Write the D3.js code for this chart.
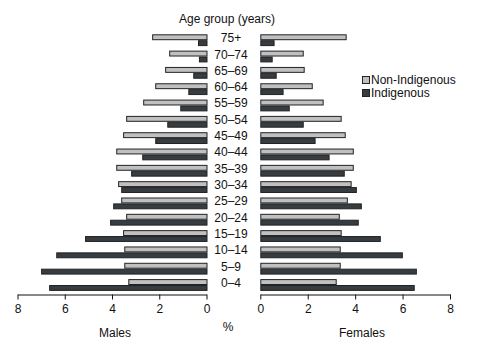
<!DOCTYPE html>
<html>
<head>
<meta charset="utf-8">
<script src="https://cdn.jsdelivr.net/npm/d3@7"></script>
<style>
  body { margin: 0; background: #fff; }
  text { font-family: "Liberation Sans", Arial, sans-serif; fill: #111; }
</style>
</head>
<body>
<div id="chart"></div>
<script>
// age groups, top to bottom
const ageGroups = ["75+", "70–74", "65–69", "60–64", "55–59", "50–54", "45–49", "40–44",
  "35–39", "30–34", "25–29", "20–24", "15–19", "10–14", "5–9", "0–4"];
const seriesNames = ["Non-Indigenous", "Indigenous"];

// % of population
const malesNonIndigenous = [2.30, 1.58, 1.75, 2.17, 2.68, 3.40, 3.53, 3.82, 3.82, 3.74, 3.61, 3.40, 3.53, 3.48, 3.48, 3.31];
const malesIndigenous = [0.36, 0.32, 0.56, 0.77, 1.11, 1.66, 2.17, 2.72, 3.19, 3.61, 3.95, 4.08, 5.14, 6.36, 7.00, 6.66];
const femalesNonIndigenous = [3.60, 1.79, 1.83, 2.17, 2.63, 3.39, 3.56, 3.90, 3.90, 3.81, 3.65, 3.31, 3.39, 3.35, 3.35, 3.18];
const femalesIndigenous = [0.56, 0.48, 0.65, 0.94, 1.20, 1.79, 2.29, 2.88, 3.52, 4.03, 4.24, 4.11, 5.04, 5.97, 6.56, 6.47];
const xTicks = [0, 2, 4, 6, 8];

const width = 491, height = 350;
const colors = { "Non-Indigenous": "#c0c0c0", "Indigenous": "#373c40" };

const svg = d3.select("#chart").append("svg")
  .attr("width", width)
  .attr("height", height);

// scales
const xMale = d3.scaleLinear().domain([0, 8]).range([206.5, 17.5]);
const xFemale = d3.scaleLinear().domain([0, 8]).range([260.3, 450]);
const yGroup = d3.scalePoint().domain(ageGroups).range([40.5, 285.3]);
const ySeries = d3.scaleBand().domain(seriesNames).range([-6.2, 5.6]).padding(0);

const sides = [
  { x: xMale, data: [malesNonIndigenous, malesIndigenous], label: "Males", labelX: 115 },
  { x: xFemale, data: [femalesNonIndigenous, femalesIndigenous], label: "Females", labelX: 362 }
];

sides.forEach(side => {
  const g = svg.append("g");
  seriesNames.forEach((s, si) => {
    g.selectAll(null)
      .data(ageGroups.map((a, i) => ({ age: a, v: side.data[si][i] })))
      .enter()
      .append("rect")
      .attr("x", d => Math.min(side.x(0), side.x(d.v)) + 0.5)
      .attr("y", d => yGroup(d.age) + ySeries(s) + 0.5)
      .attr("width", d => Math.abs(side.x(d.v) - side.x(0)))
      .attr("height", ySeries.bandwidth() - 1)
      .attr("fill", colors[s])
      .attr("stroke", "#222")
      .attr("stroke-width", 1);
  });

  const axis = svg.append("g")
    .attr("transform", "translate(0,294.5)")
    .call(d3.axisBottom(side.x).tickValues(xTicks).tickFormat(d3.format("d"))
      .tickSize(5).tickSizeOuter(0).tickPadding(5));
  axis.select(".domain").attr("stroke", "#111");
  axis.selectAll(".tick line").attr("stroke", "#111");
  axis.selectAll(".tick text")
    .style("font-family", "'Liberation Sans', Arial, sans-serif")
    .style("font-size", "12px")
    .attr("fill", "#111");

  svg.append("text")
    .attr("x", side.labelX)
    .attr("y", 337)
    .attr("text-anchor", "middle")
    .style("font-size", "12px")
    .text(side.label);
});

// age labels in the middle
svg.append("g")
  .selectAll("text")
  .data(ageGroups)
  .enter()
  .append("text")
  .attr("x", 231)
  .attr("y", d => yGroup(d) - 2.5)
  .attr("dy", "0.35em")
  .attr("text-anchor", "middle")
  .style("font-size", "12px")
  .text(d => d);

svg.append("text")
  .attr("x", 227)
  .attr("y", 19)
  .attr("dy", "0.35em")
  .attr("text-anchor", "middle")
  .style("font-size", "12px")
  .text("Age group (years)");

svg.append("text")
  .attr("x", 228)
  .attr("y", 327)
  .attr("dy", "0.35em")
  .attr("text-anchor", "middle")
  .style("font-size", "12px")
  .text("%");

// legend
const legend = svg.append("g").attr("transform", "translate(362,76)");
seriesNames.forEach((s, i) => {
  legend.append("rect")
    .attr("x", 0.5)
    .attr("y", i * 13 + 0.5)
    .attr("width", 7)
    .attr("height", 7)
    .attr("fill", colors[s])
    .attr("stroke", "#222");
  legend.append("text")
    .attr("x", 9)
    .attr("y", i * 13 + 4)
    .attr("dy", "0.35em")
    .style("font-size", "12px")
    .text(s);
});
</script>
</body>
</html>
